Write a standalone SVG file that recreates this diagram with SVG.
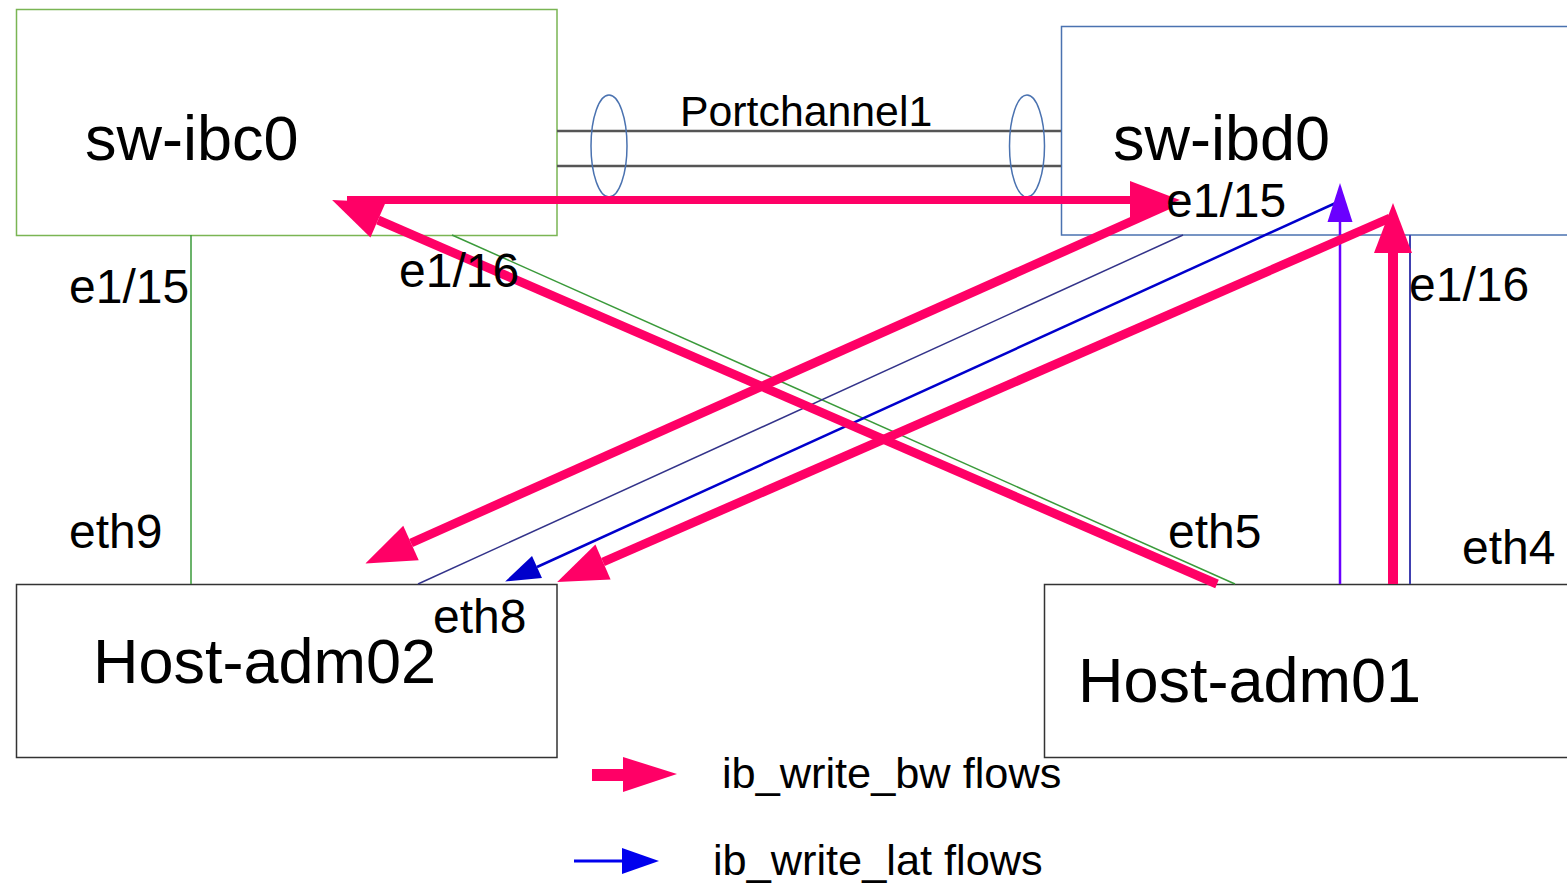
<svg xmlns="http://www.w3.org/2000/svg" width="1567" height="884" viewBox="0 0 1567 884">
<style>
text{font-family:"Liberation Sans",Arial,sans-serif;fill:#000}
.big{font-size:63px}
.port{font-size:48px}
.leg{font-size:43.3px}
.red{stroke:#ff0066;fill:none;stroke-linecap:butt}
.thin{fill:none}
</style>
<defs>
<marker id="hr" markerUnits="userSpaceOnUse" viewBox="0 -20 52 40" markerWidth="52" markerHeight="40" refX="0" refY="0" orient="auto" overflow="visible"><path d="M0,-19 L50,0 L0,19 z" fill="#ff0066"/></marker>
<marker id="hb" markerUnits="userSpaceOnUse" viewBox="0 -13 36 26" markerWidth="36" markerHeight="26" refX="0" refY="0" orient="auto" overflow="visible"><path d="M0,-12 L35,0 L0,12 z" fill="#0000cc"/></marker>
<marker id="hp" markerUnits="userSpaceOnUse" viewBox="0 -13 40 26" markerWidth="40" markerHeight="26" refX="0" refY="0" orient="auto" overflow="visible"><path d="M0,-12.5 L39,0 L0,12.5 z" fill="#6a00ff"/></marker>
</defs>
<rect width="1567" height="884" fill="#fff"/>
<g id="sw-ibc0">
<rect x="16.5" y="9.5" width="540.5" height="226" fill="none" stroke="#7ab553" stroke-width="1.5"/>
<text class="big" x="85" y="160">sw-ibc0</text>
</g>
<g id="sw-ibd0">
<rect x="1061.5" y="26.5" width="520" height="208.5" fill="none" stroke="#4a72b0" stroke-width="1.5"/>
<text class="big" x="1113" y="160">sw-ibd0</text>
</g>
<g id="host-adm02">
<rect x="16.5" y="584.5" width="540.5" height="173" fill="none" stroke="#333" stroke-width="1.5"/>
<text class="big" x="93" y="683">Host-adm02</text>
</g>
<g id="host-adm01">
<rect x="1044.5" y="584.5" width="540" height="173" fill="none" stroke="#333" stroke-width="1.5"/>
<text class="big" x="1078" y="702">Host-adm01</text>
</g>
<g id="connectors">
<g id="portchannel">
<line x1="557" y1="131" x2="1061" y2="131" stroke="#555" stroke-width="2.5"/>
<line x1="557" y1="166" x2="1061" y2="166" stroke="#555" stroke-width="2.5"/>
<ellipse cx="609" cy="146" rx="18" ry="51" fill="none" stroke="#4a72b0" stroke-width="1.5"/>
<ellipse cx="1027" cy="146" rx="17.5" ry="51" fill="none" stroke="#4a72b0" stroke-width="1.5"/>
<text x="680" y="126" style="font-size:42.8px">Portchannel1</text>
</g>
<line class="thin" x1="191" y1="235" x2="191" y2="584" stroke="#3a9a3a" stroke-width="1.5"/>
<line class="thin" x1="452" y1="235" x2="1235" y2="584" stroke="#3a9a3a" stroke-width="1.5"/>
<line class="thin" x1="1183" y1="235" x2="418" y2="584" stroke="#33338a" stroke-width="1.5"/>
<line class="thin" x1="1410" y1="235" x2="1410" y2="584" stroke="#4040b0" stroke-width="2"/>
<line class="thin" x1="1340" y1="201" x2="537" y2="567" stroke="#0000cc" stroke-width="2.5" marker-end="url(#hb)"/>
<line class="thin" x1="1340" y1="584" x2="1340" y2="222" stroke="#6a00ff" stroke-width="2.5" marker-end="url(#hp)"/>
<line class="red" x1="347" y1="200" x2="1130" y2="200" stroke-width="8" marker-end="url(#hr)"/>
<line class="red" x1="1217" y1="584" x2="378" y2="220" stroke-width="9" marker-end="url(#hr)"/>
<line class="red" x1="1168" y1="205" x2="411" y2="543" stroke-width="9" marker-end="url(#hr)"/>
<line class="red" x1="1390" y1="218" x2="603" y2="562" stroke-width="9" marker-end="url(#hr)"/>
<line class="red" x1="1393" y1="584" x2="1393" y2="253" stroke-width="10" marker-end="url(#hr)"/>
</g>
<g id="port-labels">
<text class="port" x="69" y="303">e1/15</text>
<text class="port" x="399" y="287">e1/16</text>
<text class="port" x="1166" y="217">e1/15</text>
<text class="port" x="1409" y="301">e1/16</text>
<text class="port" x="69" y="548">eth9</text>
<text class="port" x="433" y="633">eth8</text>
<text class="port" x="1168" y="548">eth5</text>
<text class="port" x="1462" y="564">eth4</text>
</g>
<g id="legend">
<line x1="592" y1="775" x2="624" y2="775" stroke="#ff0066" stroke-width="12"/>
<polygon points="623,757 677,774 623,792" fill="#ff0066"/>
<text class="leg" x="722" y="788">ib_write_bw flows</text>
<line x1="574" y1="861" x2="623" y2="861" stroke="#0000ee" stroke-width="3"/>
<polygon points="622,848 659,861 622,874" fill="#0000ee"/>
<text class="leg" x="713" y="875">ib_write_lat flows</text>
</g>
</svg>
